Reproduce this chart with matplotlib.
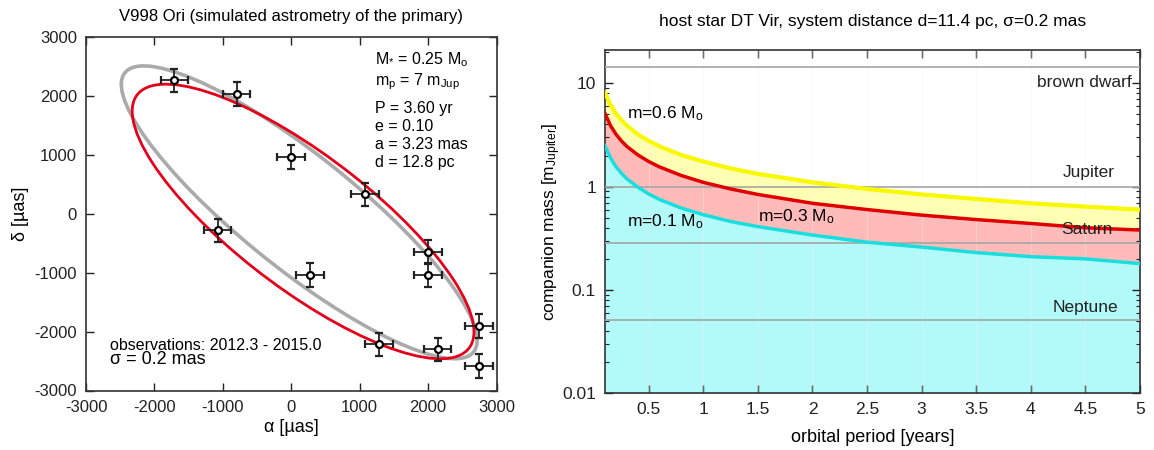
import numpy as np
import matplotlib
matplotlib.use("Agg")
import matplotlib.pyplot as plt
from matplotlib.patches import Ellipse
from matplotlib.ticker import LogLocator, NullFormatter

plt.rcParams['font.family'] = ['Liberation Sans', 'DejaVu Sans']
plt.rcParams['mathtext.fontset'] = 'custom'
plt.rcParams['mathtext.rm'] = 'Liberation Sans'
plt.rcParams['mathtext.it'] = 'Liberation Sans:italic'
plt.rcParams['axes.unicode_minus'] = False
plt.rcParams['font.size'] = 12.5

# --- astrometry of V998 Ori (micro-arcsec) ---
obs_alpha = [-1710, -800, -5, 1080, -1075, 275, 2000, 2000, 2745, 1280, 2140, 2745]
obs_delta = [2270, 2040, 970, 335, -280, -1035, -645, -1040, -1905, -2215, -2300, -2585]
obs_err = 200

# points along the two orbit ellipses
grey_alpha = [-2449, -2123, -807, 216, 1347, 2005, 2702, 2420, 1298, 860, -115, -1070, -2025]
grey_delta = [2255, 2442, 1943, 1178, 67, -726, -2086, -2426, -2171, -1633, -953, -15, 1008]
red_alpha = [-2259, -1879, -807, 216, 1444, 2005, 2687, 2224, 1298, 860, -115, -1075, -2025]
red_delta = [1745, 2158, 1886, 1292, 67, -584, -1916, -2483, -2256, -1916, -1293, -358, 725]

orbit_text = [r"M$_{\mathregular{*}}$ = 0.25 M$_{\mathregular{o}}$",
              r"m$_{\mathregular{p}}$ = 7 m$_{\mathregular{Jup}}$",
              "P = 3.60 yr", "e = 0.10", "a = 3.23 mas", "d = 12.8 pc"]

# --- detection limits for DT Vir (companion mass in Jupiter masses) ---
period = [0.1, 0.15, 0.2, 0.25, 0.3, 0.4, 0.5, 0.6, 0.8, 1.0, 1.25, 1.5,
          2.0, 2.5, 3.0, 3.5, 4.0, 4.5, 5.0]
m_06 = [8.10, 6.18, 5.10, 4.40, 3.89, 3.21, 2.77, 2.45, 2.02, 1.75, 1.50, 1.33,
        1.10, 0.95, 0.84, 0.76, 0.69, 0.64, 0.60]
m_03 = [5.11, 3.90, 3.22, 2.77, 2.45, 2.03, 1.75, 1.55, 1.28, 1.10, 0.95, 0.84,
        0.69, 0.60, 0.53, 0.48, 0.44, 0.40, 0.38]
m_01 = [2.48, 1.90, 1.56, 1.35, 1.19, 0.99, 0.85, 0.75, 0.62, 0.535, 0.46, 0.41,
        0.34, 0.29, 0.26, 0.23, 0.21, 0.20, 0.18]

ref_names = ["brown dwarf", "Jupiter", "Saturn", "Neptune"]
ref_mass = [14.5, 1.0, 0.287, 0.051]


def fit_ellipse(x, y, **kw):
    # least squares conic through the sampled orbit points
    x = np.asarray(x) / 1000.0
    y = np.asarray(y) / 1000.0
    D = np.column_stack([x * x, x * y, y * y, x, y, np.ones_like(x)])
    _, _, vt = np.linalg.svd(D)
    A, B, C, Dx, Ey, F = vt[-1]
    x0, y0 = np.linalg.solve([[2 * A, B], [B, 2 * C]], [-Dx, -Ey])
    F0 = F + (Dx * x0 + Ey * y0) / 2
    w, v = np.linalg.eigh([[A, B / 2], [B / 2, C]])
    ax_len = np.sqrt(-F0 / w)
    ang = np.degrees(np.arctan2(v[1, 0], v[0, 0]))
    return Ellipse((x0 * 1000, y0 * 1000), 2000 * ax_len[0], 2000 * ax_len[1],
                   angle=ang, fill=False, **kw)


fig = plt.figure(figsize=(11.54, 4.5), dpi=100)
W, H = 1154.0, 450.0

# ---------------- left: simulated orbit ----------------
ax1 = fig.add_axes([86 / W, (H - 390.5) / H, 410.5 / W, 353 / H])
ax1.add_patch(fit_ellipse(grey_alpha, grey_delta, color='#aaaaaa', lw=2.6, zorder=2))
ax1.add_patch(fit_ellipse(red_alpha, red_delta, color='#e3001b', lw=2.0, zorder=3))
ax1.errorbar(obs_alpha, obs_delta, xerr=obs_err, yerr=obs_err, fmt='o', ms=5,
             mfc='white', mec='black', mew=1.6, ecolor='#222222', elinewidth=1.3,
             capsize=3, capthick=1.3, zorder=5)
ax1.set_xlim(-3000, 3000)
ax1.set_ylim(-3000, 3000)
ax1.set_xticks(np.arange(-3000, 3001, 1000))
ax1.set_yticks(np.arange(-3000, 3001, 1000))
ax1.tick_params(direction='in', top=True, right=True, length=6, width=1,
                labelsize=12, pad=6.5, colors='#222222')
ax1.set_xlabel(u"\u03b1 [\u00b5as]", fontsize=13)
ax1.set_ylabel(u"\u03b4 [\u00b5as]", fontsize=13)
ax1.xaxis.set_label_coords(0.5, -0.082)
ax1.yaxis.set_label_coords(-0.14, 0.5)
ax1.set_title("V998 Ori (simulated astrometry of the primary)", fontsize=12, pad=12)

text_y = [0.936, 0.874, 0.800, 0.747, 0.696, 0.645]
for s, ty in zip(orbit_text, text_y):
    ax1.text(0.704, ty, s, transform=ax1.transAxes, va='center', ha='left', fontsize=11.5)
ax1.text(0.058, 0.127, "observations: 2012.3 - 2015.0", transform=ax1.transAxes,
         va='center', fontsize=11.5)
ax1.text(0.058, 0.087, u"\u03c3 = 0.2 mas", transform=ax1.transAxes,
         va='center', fontsize=13)

# ---------------- right: mass limits ----------------
ax2 = fig.add_axes([605 / W, (H - 393.3) / H, 535 / W, 343.3 / H])
ax2.set_yscale('log')
ax2.set_xlim(0.1, 5)
ax2.set_ylim(0.01, 21)

ax2.fill_between(period, 0.01, m_01, color='#b2f9f9', lw=0, zorder=1)
ax2.fill_between(period, m_01, m_03, color='#ffbaba', lw=0, zorder=1)
ax2.fill_between(period, m_03, m_06, color='#ffffb4', lw=0, zorder=1)
for xv in np.arange(0.5, 5.0, 0.5):
    ax2.axvline(xv, color='#f4f4f4', lw=0.8, alpha=0.35, zorder=2)
for mv in ref_mass:
    ax2.axhline(mv, color='#a5a5a5', lw=1.2, zorder=3)
ax2.plot(period, m_01, color='#19dede', lw=2.5, zorder=4)
ax2.plot(period, m_03, color='#e00000', lw=2.5, zorder=4)
ax2.plot(period, m_06, color='#f8f800', lw=3.0, zorder=4)

ax2.set_xticks(np.arange(0.5, 5.01, 0.5))
ax2.set_xticklabels(['0.5', '1', '1.5', '2', '2.5', '3', '3.5', '4', '4.5', '5'])
ax2.set_yticks([0.01, 0.1, 1, 10])
ax2.set_yticklabels(['0.01', '0.1', '1', '10'])
ax2.yaxis.set_minor_locator(LogLocator(base=10, subs=np.arange(2, 10)))
ax2.yaxis.set_minor_formatter(NullFormatter())
ax2.tick_params(which='major', direction='in', top=True, right=True, length=6,
                width=1, labelsize=12.5, pad=6.5, colors='#222222')
ax2.tick_params(which='minor', direction='in', right=True, length=3, width=0.8,
                colors='#222222')
ax2.set_xlabel("orbital period [years]", fontsize=13)
ax2.set_ylabel(r"companion mass [m$_{\mathregular{Jupiter}}$]", fontsize=12.5)
ax2.xaxis.set_label_coords(0.5, -0.105)
ax2.yaxis.set_label_coords(-0.078, 0.5)
ax2.set_title(u"host star DT Vir, system distance d=11.4 pc, \u03c3=0.2 mas",
              fontsize=12.5, pad=17)

ax2.text(0.0406, 0.816, r"m=0.6 M$_{\mathregular{o}}$", transform=ax2.transAxes, va='center')
ax2.text(0.0406, 0.500, r"m=0.1 M$_{\mathregular{o}}$", transform=ax2.transAxes, va='center')
ax2.text(0.286, 0.514, r"m=0.3 M$_{\mathregular{o}}$", transform=ax2.transAxes, va='center')
label_pos = [(0.807, 0.904), (0.855, 0.642), (0.852, 0.476), (0.837, 0.251)]
for name, (lx, ly) in zip(ref_names, label_pos):
    ax2.text(lx, ly, name, transform=ax2.transAxes, va='center', ha='left',
             color='#222222', zorder=6)

for a in (ax1, ax2):
    for sp in a.spines.values():
        sp.set_color('#333333')
        sp.set_linewidth(1.2)

fig.savefig("out.png", dpi=100)
